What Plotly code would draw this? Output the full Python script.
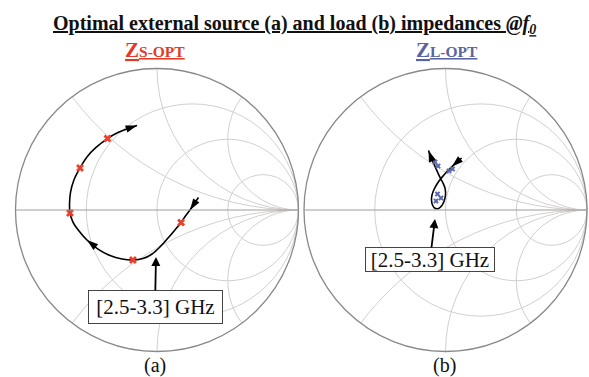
import numpy as np
import plotly.graph_objects as go

# ---- (a) optimal source reflection coefficient (Gamma plane)
src_gamma_re = [0.293, 0.261, 0.233, 0.201, 0.170, 0.127, 0.078, 0.021, -0.035, -0.099,
                -0.170, -0.247, -0.332, -0.417, -0.495, -0.551, -0.594, -0.615, -0.618, -0.611,
                -0.587, -0.544, -0.495, -0.431, -0.350, -0.276, -0.205, -0.141]
src_gamma_im = [0.088, 0.042, 0.0, -0.042, -0.088, -0.141, -0.198, -0.261, -0.311, -0.343,
                -0.353, -0.346, -0.322, -0.276, -0.212, -0.148, -0.085, -0.021, 0.049, 0.127,
                0.212, 0.297, 0.375, 0.442, 0.505, 0.548, 0.576, 0.597]
src_mark_re = [0.170, -0.170, -0.615, -0.544, -0.350]
src_mark_im = [-0.088, -0.353, -0.021, 0.297, 0.505]
src_arrow_idx = [2, 14, 27]

# ---- (b) optimal load reflection coefficient
load_gamma_re = [0.1145, 0.0813, 0.0459, 0.0106, -0.0141, -0.0353, -0.0601, -0.0813, -0.0954,
                 -0.0989, -0.0919, -0.0742, -0.0495, -0.0283, -0.0106, 0.0, -0.0035, -0.0177,
                 -0.0353, -0.0601, -0.0848, -0.106, -0.120]
load_gamma_im = [0.3675, 0.339, 0.307, 0.272, 0.244, 0.219, 0.184, 0.145, 0.106,
                 0.0707, 0.0353, 0.012, 0.0106, 0.0283, 0.060, 0.106, 0.155, 0.191,
                 0.223, 0.276, 0.332, 0.382, 0.420]
load_mark_re = [-0.0742, -0.053, 0.0247, 0.0495, -0.0565, -0.0318, -0.0671]
load_mark_im = [0.339, 0.311, 0.276, 0.290, 0.113, 0.0848, 0.0636]
load_arrow_idx = [2, 22]

band_label = "[2.5-3.3] GHz"
r_grid = [1 / 3, 1, 3]
x_grid = [-2, -1, -0.5, 0.5, 1, 2]


def to_z(re, im):
    g = np.asarray(re) + 1j * np.asarray(im)
    return (1 + g) / (1 - g)


def arrow_angles(re, im, idx):
    ang = []
    for i in idx:
        dx = re[i] - re[i - 1]
        dy = im[i] - im[i - 1]
        ang.append(float(np.degrees(np.arctan2(dx, dy))))
    return ang


fig = go.Figure()

for sub, gre, gim, mre, mim, aidx, mcol, msize in [
    ("smith", src_gamma_re, src_gamma_im, src_mark_re, src_mark_im, src_arrow_idx, "#e8402a", 7),
    ("smith2", load_gamma_re, load_gamma_im, load_mark_re, load_mark_im, load_arrow_idx, "#5b69b0", 5),
]:
    z = to_z(gre, gim)
    fig.add_trace(go.Scattersmith(real=z.real, imag=z.imag, mode="lines", subplot=sub,
                                  line=dict(color="black", width=1.6, shape="spline")))
    zm = to_z(mre, mim)
    fig.add_trace(go.Scattersmith(real=zm.real, imag=zm.imag, mode="markers", subplot=sub,
                                  marker=dict(symbol="x", size=msize, color=mcol,
                                              line=dict(width=0))))
    za = z[aidx]
    fig.add_trace(go.Scattersmith(real=za.real, imag=za.imag, mode="markers", subplot=sub,
                                  marker=dict(symbol="arrow", size=12, color="black",
                                              angle=arrow_angles(gre, gim, aidx),
                                              angleref="up", line=dict(width=0))))

W, H = 589, 377


def axes():
    return dict(
        bgcolor="white",
        realaxis=dict(tickvals=r_grid, showticklabels=False, ticks="", showline=True,
                      linecolor="#a39a9a", linewidth=1, gridcolor="#d3cfcf", gridwidth=1),
        imaginaryaxis=dict(tickvals=x_grid, showticklabels=False, ticks="", showline=True,
                           linecolor="#888888", linewidth=1.3, gridcolor="#d3cfcf", gridwidth=1),
    )


def px(x, y):
    return x / W, 1 - y / H


ann = []
serif = "Liberation Serif"
base = dict(xref="paper", yref="paper", xanchor="center", yanchor="middle")

tx, ty = px(294, 24)
ann.append(dict(x=tx, y=ty, showarrow=False,
                text="<b><u>Optimal external source (a) and load (b) impedances <i>@f</i><i><sub>0</sub></i></u></b>",
                font=dict(family=serif, size=20, color="#111"), **base))
for cx, col, letter in [(155, "#e23b25", "S"), (447, "#5a64a0", "L")]:
    x, y = px(cx, 50)
    ann.append(dict(x=x, y=y, showarrow=False,
                    text=f"<b><u>Z<span style='font-size:15.5px'>{letter}-OPT</span></u></b>",
                    font=dict(family=serif, size=21, color=col), **base))
for cx, lab in [(155, "(a)"), (444, "(b)")]:
    x, y = px(cx, 365)
    ann.append(dict(x=x, y=y, showarrow=False, text=lab,
                    font=dict(family=serif, size=20, color="#111"), **base))
# frequency-range boxes with arrows pointing at the curves
for cx, cy, w, h, tipx, tipy in [(155, 307, 133, 32, 156, 257), (430, 259.5, 128, 23, 435, 219)]:
    x, y = px(tipx, tipy)
    ann.append(dict(x=x, y=y, showarrow=True, text=band_label,
                    ax=cx - tipx, ay=cy - tipy, arrowhead=2, arrowsize=1, arrowwidth=1.8,
                    arrowcolor="black",
                    width=w, height=h, borderpad=0, bordercolor="#444", borderwidth=1,
                    bgcolor="white", font=dict(family=serif, size=21, color="#111"), **base))

fig.update_layout(
    width=W, height=H, margin=dict(l=0, r=0, t=0, b=0),
    paper_bgcolor="white", showlegend=False,
    smith=dict(domain=dict(x=[(157 - 141.5) / W, (157 + 141.5) / W],
                           y=[(167 - 141.5) / H, (167 + 141.5) / H]), **axes()),
    smith2=dict(domain=dict(x=[(445.5 - 141.5) / W, (445.5 + 141.5) / W],
                            y=[(167 - 141.5) / H, (167 + 141.5) / H]), **axes()),
    annotations=ann,
)

fig.write_html("out.html")
